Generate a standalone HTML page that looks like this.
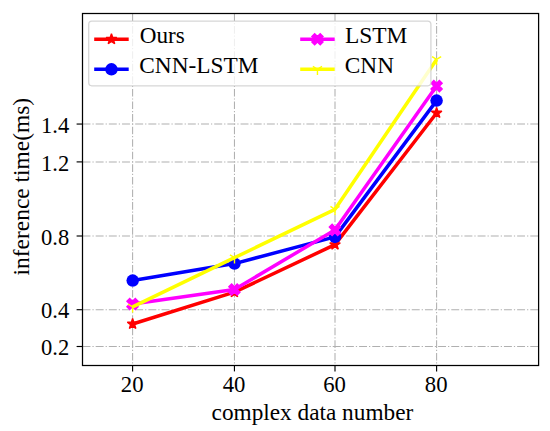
<!DOCTYPE html>
<html><head><meta charset="utf-8"><title>chart</title>
<style>
html,body{margin:0;padding:0;background:#fff;}
body{width:550px;height:431px;overflow:hidden;position:relative;font-family:"Liberation Serif",serif;}
svg{position:absolute;left:0;top:0;}
text{font-family:"Liberation Serif",serif;fill:#000;}
</style></head><body>
<svg width="550" height="431" viewBox="0 0 550 431">
<rect x="0" y="0" width="550" height="431" fill="#ffffff"/>

<g stroke="#b0b0b0" stroke-width="1.05" fill="none">
<line x1="132.60" y1="13.50" x2="132.60" y2="365.50" stroke-dasharray="7.58 1.9 1.19 1.9"/>
<line x1="234.45" y1="13.50" x2="234.45" y2="365.50" stroke-dasharray="7.58 1.9 1.19 1.9"/>
<line x1="335.00" y1="13.50" x2="335.00" y2="365.50" stroke-dasharray="7.58 1.9 1.19 1.9"/>
<line x1="436.60" y1="13.50" x2="436.60" y2="365.50" stroke-dasharray="7.58 1.9 1.19 1.9"/>
<line x1="82.50" y1="346.50" x2="538.60" y2="346.50" stroke-dasharray="7.95 1.99 1.24 1.99"/>
<line x1="82.50" y1="309.70" x2="538.60" y2="309.70" stroke-dasharray="7.95 1.99 1.24 1.99"/>
<line x1="82.50" y1="236.00" x2="538.60" y2="236.00" stroke-dasharray="7.95 1.99 1.24 1.99"/>
<line x1="82.50" y1="161.90" x2="538.60" y2="161.90" stroke-dasharray="7.95 1.99 1.24 1.99"/>
<line x1="82.50" y1="124.05" x2="538.60" y2="124.05" stroke-dasharray="7.95 1.99 1.24 1.99"/>
</g>
<clipPath id="c"><rect x="82.50" y="13.50" width="456.10" height="352.00"/></clipPath>
<g clip-path="url(#c)">
<polyline points="132.60,324.00 234.40,292.20 335.00,244.60 436.60,113.00" fill="none" stroke="#ff0000" stroke-width="3.5" stroke-linejoin="round" stroke-linecap="butt"/>
<polygon points="132.60,318.44 133.85,322.28 137.89,322.28 134.62,324.66 135.87,328.50 132.60,326.12 129.33,328.50 130.58,324.66 127.31,322.28 131.35,322.28" fill="#ff0000" stroke="#ff0000" stroke-width="1.39" stroke-linejoin="bevel"/>
<polygon points="234.40,286.64 235.65,290.48 239.69,290.48 236.42,292.86 237.67,296.70 234.40,294.32 231.13,296.70 232.38,292.86 229.11,290.48 233.15,290.48" fill="#ff0000" stroke="#ff0000" stroke-width="1.39" stroke-linejoin="bevel"/>
<polygon points="335.00,239.04 336.25,242.88 340.29,242.88 337.02,245.26 338.27,249.10 335.00,246.72 331.73,249.10 332.98,245.26 329.71,242.88 333.75,242.88" fill="#ff0000" stroke="#ff0000" stroke-width="1.39" stroke-linejoin="bevel"/>
<polygon points="436.60,107.44 437.85,111.28 441.89,111.28 438.62,113.66 439.87,117.50 436.60,115.12 433.33,117.50 434.58,113.66 431.31,111.28 435.35,111.28" fill="#ff0000" stroke="#ff0000" stroke-width="1.39" stroke-linejoin="bevel"/>
<polyline points="132.70,280.60 234.50,263.60 335.00,236.90 436.60,100.60" fill="none" stroke="#0000ff" stroke-width="3.5" stroke-linejoin="round" stroke-linecap="butt"/>
<circle cx="132.70" cy="280.60" r="6.25" fill="#0000ff"/>
<circle cx="234.50" cy="263.60" r="6.25" fill="#0000ff"/>
<circle cx="335.00" cy="236.90" r="6.25" fill="#0000ff"/>
<circle cx="436.60" cy="100.60" r="6.25" fill="#0000ff"/>
<polyline points="132.50,304.00 234.40,289.50 334.90,229.90 436.60,86.10" fill="none" stroke="#ff00ff" stroke-width="3.5" stroke-linejoin="round" stroke-linecap="butt"/>
<polygon points="129.72,298.44 132.50,301.22 135.28,298.44 138.06,301.22 135.28,304.00 138.06,306.78 135.28,309.56 132.50,306.78 129.72,309.56 126.94,306.78 129.72,304.00 126.94,301.22" fill="#ff00ff" stroke="#ff00ff" stroke-width="1.39" stroke-linejoin="miter"/>
<polygon points="231.62,283.94 234.40,286.72 237.18,283.94 239.96,286.72 237.18,289.50 239.96,292.28 237.18,295.06 234.40,292.28 231.62,295.06 228.84,292.28 231.62,289.50 228.84,286.72" fill="#ff00ff" stroke="#ff00ff" stroke-width="1.39" stroke-linejoin="miter"/>
<polygon points="332.12,224.34 334.90,227.12 337.68,224.34 340.46,227.12 337.68,229.90 340.46,232.68 337.68,235.46 334.90,232.68 332.12,235.46 329.34,232.68 332.12,229.90 329.34,227.12" fill="#ff00ff" stroke="#ff00ff" stroke-width="1.39" stroke-linejoin="miter"/>
<polygon points="433.82,80.54 436.60,83.32 439.38,80.54 442.16,83.32 439.38,86.10 442.16,88.88 439.38,91.66 436.60,88.88 433.82,91.66 431.04,88.88 433.82,86.10 431.04,83.32" fill="#ff00ff" stroke="#ff00ff" stroke-width="1.39" stroke-linejoin="miter"/>
<polyline points="132.60,306.90 234.50,257.70 335.00,209.30 436.60,59.40" fill="none" stroke="#ffff00" stroke-width="3.5" stroke-linejoin="round" stroke-linecap="butt"/>
<line x1="132.60" y1="306.90" x2="132.60" y2="312.60" stroke="#ffff00" stroke-width="1.39"/><line x1="132.60" y1="306.90" x2="137.16" y2="304.05" stroke="#ffff00" stroke-width="1.39"/><line x1="132.60" y1="306.90" x2="128.04" y2="304.05" stroke="#ffff00" stroke-width="1.39"/>
<line x1="234.50" y1="257.70" x2="234.50" y2="263.40" stroke="#ffff00" stroke-width="1.39"/><line x1="234.50" y1="257.70" x2="239.06" y2="254.85" stroke="#ffff00" stroke-width="1.39"/><line x1="234.50" y1="257.70" x2="229.94" y2="254.85" stroke="#ffff00" stroke-width="1.39"/>
<line x1="335.00" y1="209.30" x2="335.00" y2="215.00" stroke="#ffff00" stroke-width="1.39"/><line x1="335.00" y1="209.30" x2="339.56" y2="206.45" stroke="#ffff00" stroke-width="1.39"/><line x1="335.00" y1="209.30" x2="330.44" y2="206.45" stroke="#ffff00" stroke-width="1.39"/>
<line x1="436.60" y1="59.40" x2="436.60" y2="65.10" stroke="#ffff00" stroke-width="1.39"/><line x1="436.60" y1="59.40" x2="441.16" y2="56.55" stroke="#ffff00" stroke-width="1.39"/><line x1="436.60" y1="59.40" x2="432.04" y2="56.55" stroke="#ffff00" stroke-width="1.39"/>
</g>
<rect x="82.50" y="13.50" width="456.10" height="352.00" fill="none" stroke="#000" stroke-width="1.25"/>
<g stroke="#000" stroke-width="1.15">
<line x1="132.60" y1="365.50" x2="132.60" y2="371.40"/>
<line x1="234.45" y1="365.50" x2="234.45" y2="371.40"/>
<line x1="335.00" y1="365.50" x2="335.00" y2="371.40"/>
<line x1="436.60" y1="365.50" x2="436.60" y2="371.40"/>
<line x1="82.50" y1="346.50" x2="76.60" y2="346.50"/>
<line x1="82.50" y1="309.70" x2="76.60" y2="309.70"/>
<line x1="82.50" y1="236.00" x2="76.60" y2="236.00"/>
<line x1="82.50" y1="161.90" x2="76.60" y2="161.90"/>
<line x1="82.50" y1="124.05" x2="76.60" y2="124.05"/>
</g>
<text transform="translate(132.15,392.30) scale(0.972,1)" font-size="23.4" text-anchor="middle">20</text>
<text transform="translate(234.00,392.30) scale(0.972,1)" font-size="23.4" text-anchor="middle">40</text>
<text transform="translate(334.55,392.30) scale(0.972,1)" font-size="23.4" text-anchor="middle">60</text>
<text transform="translate(436.15,392.30) scale(0.972,1)" font-size="23.4" text-anchor="middle">80</text>
<text transform="translate(69.20,355.20) scale(0.963,1)" font-size="23.4" text-anchor="end">0.2</text>
<text transform="translate(69.20,318.40) scale(0.963,1)" font-size="23.4" text-anchor="end">0.4</text>
<text transform="translate(69.20,244.70) scale(0.963,1)" font-size="23.4" text-anchor="end">0.8</text>
<text transform="translate(69.20,170.60) scale(0.963,1)" font-size="23.4" text-anchor="end">1.2</text>
<text transform="translate(69.20,132.75) scale(0.963,1)" font-size="23.4" text-anchor="end">1.4</text>
<text transform="translate(312.4,420.3) scale(0.995,1)" font-size="23.4" text-anchor="middle">complex data number</text>
<text transform="translate(29.05,186.65) rotate(-90) scale(1.002,1)" font-size="23.4" text-anchor="middle">inference time(ms)</text>
<rect x="88.7" y="21.2" width="342.2" height="64.6" rx="3.2" ry="3.2" fill="#ffffff" fill-opacity="0.8" stroke="#cccccc" stroke-opacity="0.8" stroke-width="1.3"/>
<line x1="94.20" y1="39.20" x2="128.70" y2="39.20" stroke="#ff0000" stroke-width="3.5"/>
<polygon points="111.45,33.64 112.70,37.48 116.74,37.48 113.47,39.86 114.72,43.70 111.45,41.32 108.18,43.70 109.43,39.86 106.16,37.48 110.20,37.48" fill="#ff0000" stroke="#ff0000" stroke-width="1.39" stroke-linejoin="bevel"/>
<text transform="translate(139.80,43.45) scale(0.991,1)" font-size="23.4">Ours</text>
<line x1="94.20" y1="69.30" x2="128.70" y2="69.30" stroke="#0000ff" stroke-width="3.5"/>
<circle cx="111.45" cy="69.30" r="6.25" fill="#0000ff"/>
<text transform="translate(139.30,73.25) scale(0.996,1)" font-size="23.4">CNN-LSTM</text>
<line x1="300.20" y1="39.20" x2="334.70" y2="39.20" stroke="#ff00ff" stroke-width="3.5"/>
<polygon points="314.67,33.64 317.45,36.42 320.23,33.64 323.01,36.42 320.23,39.20 323.01,41.98 320.23,44.76 317.45,41.98 314.67,44.76 311.89,41.98 314.67,39.20 311.89,36.42" fill="#ff00ff" stroke="#ff00ff" stroke-width="1.39" stroke-linejoin="miter"/>
<text transform="translate(344.90,43.45) scale(1.000,1)" font-size="23.4">LSTM</text>
<line x1="300.20" y1="69.30" x2="334.70" y2="69.30" stroke="#ffff00" stroke-width="3.5"/>
<line x1="317.45" y1="69.30" x2="317.45" y2="75.00" stroke="#ffff00" stroke-width="1.39"/><line x1="317.45" y1="69.30" x2="322.01" y2="66.45" stroke="#ffff00" stroke-width="1.39"/><line x1="317.45" y1="69.30" x2="312.89" y2="66.45" stroke="#ffff00" stroke-width="1.39"/>
<text transform="translate(344.80,73.25) scale(0.996,1)" font-size="23.4">CNN</text>
</svg></body></html>
